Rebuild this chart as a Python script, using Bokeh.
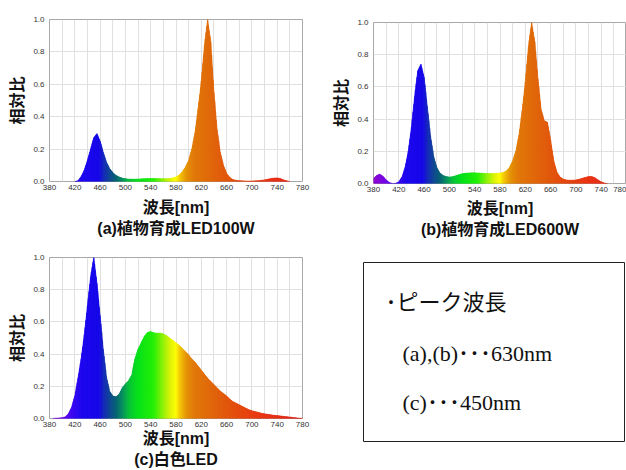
from bokeh.plotting import figure
from bokeh.models import Range1d, FixedTicker, NumeralTickFormatter, Label
from bokeh.layouts import row, column
from bokeh.embed import file_html
from bokeh.resources import INLINE

# ---------------- data ----------------
wavelength = [380, 385, 390, 395, 400, 405, 410, 415, 420, 425,
              430, 435, 440, 445, 450, 455, 460, 465, 470, 475,
              480, 485, 490, 495, 500, 505, 510, 515, 520, 525,
              530, 535, 540, 545, 550, 555, 560, 565, 570, 575,
              580, 585, 590, 595, 600, 605, 610, 615, 620, 625,
              630, 635, 640, 645, 650, 655, 660, 665, 670, 675,
              680, 685, 690, 695, 700, 705, 710, 715, 720, 725,
              730, 735, 740, 745, 750, 755, 760, 765, 770, 775, 780]

led100w = [0.0, 0.0, 0.0, 0.0, 0.0, 0.0, 0.0, 0.0, 0.0, 0.005,
           0.03, 0.07, 0.13, 0.20, 0.27, 0.295, 0.25, 0.18, 0.12, 0.08,
           0.055, 0.038, 0.028, 0.021, 0.017, 0.015, 0.014, 0.014, 0.015, 0.016,
           0.017, 0.018, 0.018, 0.018, 0.018, 0.017, 0.017, 0.017, 0.018, 0.022,
           0.028, 0.04, 0.06, 0.09, 0.13, 0.20, 0.30, 0.45, 0.62, 0.84,
           1.0, 0.86, 0.55, 0.32, 0.18, 0.10, 0.05, 0.025, 0.012, 0.007,
           0.005, 0.004, 0.003, 0.003, 0.003, 0.004, 0.005, 0.007, 0.010, 0.014,
           0.018, 0.021, 0.022, 0.018, 0.010, 0.004, 0.0, 0.0, 0.0, 0.0, 0.0]

led600w = [0.03, 0.05, 0.058, 0.045, 0.022, 0.006, 0.0, 0.001, 0.01, 0.04,
           0.10, 0.20, 0.35, 0.54, 0.70, 0.74, 0.66, 0.48, 0.30, 0.17,
           0.10, 0.065, 0.05, 0.043, 0.04, 0.042, 0.048, 0.055, 0.06, 0.063,
           0.065, 0.066, 0.066, 0.065, 0.064, 0.063, 0.062, 0.062, 0.062, 0.063,
           0.065, 0.068, 0.078, 0.10, 0.14, 0.20, 0.30, 0.45, 0.63, 0.85,
           1.0, 0.88, 0.65, 0.46, 0.39, 0.38, 0.27, 0.14, 0.07, 0.04,
           0.027, 0.022, 0.02, 0.02, 0.022, 0.026, 0.032, 0.038, 0.043, 0.043,
           0.036, 0.022, 0.01, 0.003, 0.0, 0.0, 0.0, 0.0, 0.0, 0.0, 0.0]

white_led = [0.0, 0.0, 0.002, 0.003, 0.005, 0.01, 0.03, 0.07, 0.14, 0.25,
             0.37, 0.52, 0.70, 0.88, 1.0, 0.84, 0.64, 0.43, 0.26, 0.17,
             0.14, 0.135, 0.15, 0.19, 0.215, 0.235, 0.27, 0.37, 0.43, 0.47,
             0.51, 0.535, 0.54, 0.532, 0.53, 0.53, 0.525, 0.515, 0.50, 0.485,
             0.47, 0.455, 0.435, 0.415, 0.395, 0.37, 0.35, 0.325, 0.30, 0.275,
             0.25, 0.23, 0.21, 0.19, 0.17, 0.155, 0.14, 0.12, 0.105, 0.095,
             0.085, 0.075, 0.065, 0.055, 0.048, 0.043, 0.038, 0.033, 0.029, 0.026,
             0.023, 0.02, 0.018, 0.016, 0.013, 0.011, 0.009, 0.006, 0.004, 0.002, 0.001]

x_ticks = [380, 420, 460, 500, 540, 580, 620, 660, 700, 740, 780]
x_minor = [400, 440, 480, 520, 560, 600, 640, 680, 720, 760]
y_ticks = [0.0, 0.2, 0.4, 0.6, 0.8, 1.0]

x_title = "波長[nm]"
y_title = "相対比"
subtitles = ["(a)植物育成LED100W", "(b)植物育成LED600W", "(c)白色LED"]
note_lines = ["･ピーク波長", "(a),(b)･･･630nm", "(c)･･･450nm"]

# ---------------- styling ----------------
color_stops = [(380, "#8a00cc"), (400, "#7000e8"), (415, "#3a00f0"), (430, "#1a00f0"),
               (458, "#1000e8"), (466, "#1024b8"), (476, "#0a4490"), (486, "#006070"),
               (496, "#00905a"), (506, "#00c034"), (520, "#00e014"), (545, "#20f000"),
               (558, "#80f000"), (572, "#e0f400"), (580, "#ffff00"), (587, "#f4c400"),
               (597, "#e49000"), (610, "#e07404"), (630, "#e06804"), (650, "#e05a06"),
               (680, "#e44608"), (720, "#e83010"), (780, "#e02010")]

GRID = "#e0e0e0"
OUTLINE = "#a8a8a8"
TITLE_FONT = "Liberation Sans, Noto Sans CJK JP"


def wl_color(w):
    for (w0, c0), (w1, c1) in zip(color_stops, color_stops[1:]):
        if w0 <= w <= w1:
            t = (w - w0) / (w1 - w0)
            a = [int(c0[i:i + 2], 16) for i in (1, 3, 5)]
            b = [int(c1[i:i + 2], 16) for i in (1, 3, 5)]
            return "#%02x%02x%02x" % tuple(round(a[k] + (b[k] - a[k]) * t) for k in range(3))
    return color_stops[-1][1]


def spectrum_fig(vals, subtitle, width, height, bl, br, bt, bb, xstand):
    p = figure(width=width, height=height, output_backend="svg", toolbar_location=None,
               x_range=Range1d(380, 780), y_range=Range1d(0, 1.0),
               min_border_left=bl, min_border_right=br, min_border_top=bt, min_border_bottom=bb,
               outline_line_color=OUTLINE, outline_line_width=1,
               background_fill_color="white", border_fill_color="white")
    xs, ys, cs = [], [], []
    nsub = 4
    for i in range(len(wavelength) - 1):
        x0, x1 = wavelength[i], wavelength[i + 1]
        y0, y1 = vals[i], vals[i + 1]
        if y0 == 0 and y1 == 0:
            continue
        for k in range(nsub):
            ta, tb = k / nsub, (k + 1) / nsub
            xa, xb = x0 + (x1 - x0) * ta, x0 + (x1 - x0) * tb
            ya, yb = y0 + (y1 - y0) * ta, y0 + (y1 - y0) * tb
            xs.append([xa, xb, xb, xa])
            ys.append([0, 0, yb, ya])
            cs.append(wl_color((xa + xb) / 2))
    p.patches(xs, ys, fill_color=cs, line_color=cs, line_width=0.6)

    p.xaxis.ticker = FixedTicker(ticks=x_ticks, minor_ticks=x_minor)
    p.yaxis.ticker = FixedTicker(ticks=y_ticks)
    p.yaxis.formatter = NumeralTickFormatter(format="0.0")
    p.xgrid.grid_line_color = GRID
    p.xgrid.minor_grid_line_color = GRID
    p.ygrid.grid_line_color = GRID
    for ax in (p.xaxis, p.yaxis):
        ax.axis_line_color = None
        ax.major_tick_line_color = None
        ax.minor_tick_line_color = None
        ax.major_tick_out = 0
        ax.major_tick_in = 0
        ax.minor_tick_out = 0
        ax.minor_tick_in = 0
        ax.major_label_text_font = "Liberation Sans"
        ax.major_label_text_font_size = "8px"
        ax.major_label_text_color = "#333333"
        ax.axis_label_text_font = TITLE_FONT
        ax.axis_label_text_font_style = "bold"
        ax.axis_label_text_color = "#111111"
        ax.axis_label_text_font_size = "16px"
    p.xaxis.major_label_standoff = 3
    p.yaxis.major_label_standoff = 5
    p.xaxis.axis_label = x_title + "\n" + subtitle
    p.xaxis.axis_label_text_line_height = 1.25
    p.yaxis.axis_label = y_title
    p.xaxis.axis_label_standoff = xstand
    p.yaxis.axis_label_standoff = 4
    return p


fa = spectrum_fig(led100w, subtitles[0], 326, 240, 49, 23, 19, 59, 6)
fc = spectrum_fig(white_led, subtitles[2], 326, 230, 48, 24, 17, 52, 0)
fb = spectrum_fig(led600w, subtitles[1], 300, 240, 47, 0, 22, 56, 5)

# note box
note = figure(width=300, height=230, output_backend="svg", toolbar_location=None,
              x_range=Range1d(0, 261), y_range=Range1d(0, 179),
              x_axis_type=None, y_axis_type=None,
              min_border_left=37, min_border_right=2, min_border_top=22, min_border_bottom=29,
              outline_line_color="#222222", outline_line_width=1)
note.grid.visible = False
note_pos = [(22, 139), (39, 88), (39, 39)]
for (lx, ly), txt in zip(note_pos, note_lines):
    note.add_layout(Label(x=lx, y=ly, text=txt, text_baseline="middle",
                          text_font="Liberation Serif, Noto Sans CJK JP",
                          text_font_size="22px", text_color="#111111"))

layout = row(column(fa, fc), column(fb, row(note)))

open("out.html", "w").write(file_html(layout, INLINE))
